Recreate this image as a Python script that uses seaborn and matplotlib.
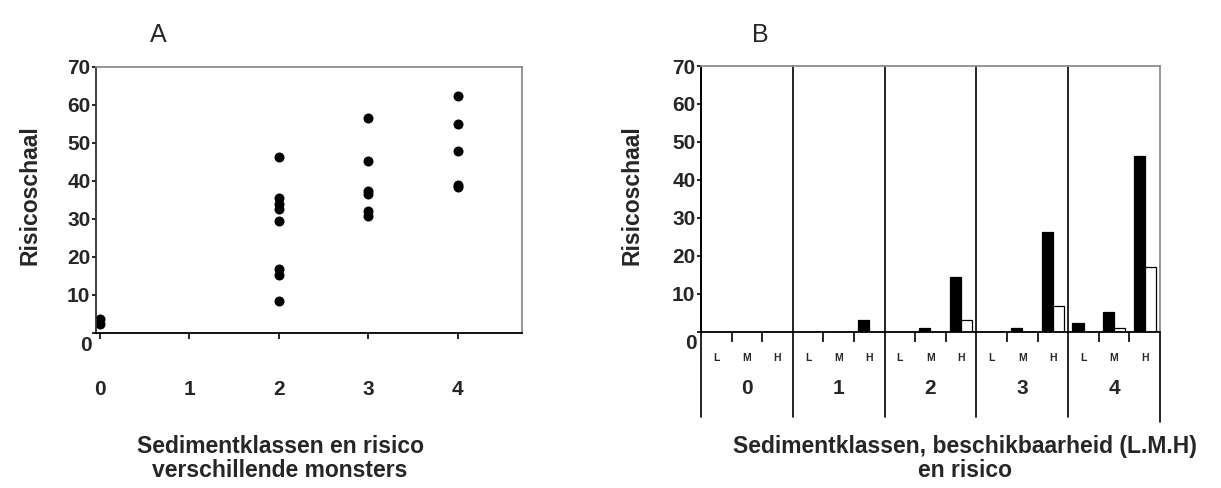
import matplotlib
matplotlib.use("Agg")
import matplotlib.pyplot as plt
import matplotlib.transforms as mtransforms
import pandas as pd
import seaborn as sns

# ---- Panel A: risk score of individual samples per sediment class ----
klasse_a = [0, 0,
            2, 2, 2, 2, 2, 2, 2, 2,
            3, 3, 3, 3, 3, 3,
            4, 4, 4, 4, 4]
risico_a = [3.8, 2.5,
            46.2, 35.5, 34.0, 32.7, 29.5, 16.9, 15.2, 8.4,
            56.6, 45.2, 37.4, 36.5, 32.0, 30.7,
            62.5, 54.9, 47.8, 38.9, 38.4]
klassen_labels_a = ["0", "1", "2", "3", "4"]

# ---- Panel B: risk per sediment class and availability (L, M, H) ----
klassen_b = ["0", "1", "2", "3", "4"]
beschikbaarheid = ["L", "M", "H"]
zwart_L = [0, 0, 0, 0, 2.2]
zwart_M = [0, 0, 1.0, 1.0, 5.2]
zwart_H = [0, 3.2, 14.3, 26.3, 46.2]
wit_L = [0, 0, 0, 0, 0]
wit_M = [0, 0, 0, 0, 1.0]
wit_H = [0, 0, 3.2, 6.9, 17.1]
reeksen = ["zwart", "wit"]

y_ticks = [0, 10, 20, 30, 40, 50, 60, 70]

sns.set_theme(style="white")
plt.rcParams["font.family"] = ["Liberation Sans", "DejaVu Sans"]

df_a = pd.DataFrame({"klasse": klasse_a, "risico": risico_a})

rows = []
waarden = {("zwart", "L"): zwart_L, ("zwart", "M"): zwart_M, ("zwart", "H"): zwart_H,
           ("wit", "L"): wit_L, ("wit", "M"): wit_M, ("wit", "H"): wit_H}
for i, k in enumerate(klassen_b):
    for b in beschikbaarheid:
        for r in reeksen:
            rows.append({"cat": f"{k}{b}", "reeks": r, "waarde": waarden[(r, b)][i]})
df_b = pd.DataFrame(rows)
order_b = [f"{k}{b}" for k in klassen_b for b in beschikbaarheid]

W, H = 1221, 488
fig = plt.figure(figsize=(W / 100, H / 100), dpi=100)
fig.patch.set_facecolor("white")

def px_axes(left, top, right, bottom):
    return fig.add_axes([left / W, 1 - bottom / H, (right - left) / W, (bottom - top) / H])

axA = px_axes(96, 67, 522, 333)
axB = px_axes(701, 66, 1160, 331.7)

tick_font = dict(fontsize=15, fontweight="bold")
label_font = dict(fontsize=16.5, fontweight="bold")
gray = "#8c8c8c"

# ---------------- Panel A ----------------
sns.scatterplot(data=df_a, x="klasse", y="risico", ax=axA, color="black",
                s=52, edgecolor="black", linewidth=0, legend=False)
axA.set_xlim(-0.04, 4.72)
axA.set_ylim(0, 70)
axA.set_xticks(range(len(klassen_labels_a)))
axA.set_xticklabels(klassen_labels_a, **tick_font)
axA.set_yticks(y_ticks)
axA.set_yticklabels([""] + [str(t) for t in y_ticks[1:]], **tick_font)
axA.tick_params(axis="x", bottom=True, direction="out", length=4, width=1.2,
                color="black", pad=30)
axA.tick_params(axis="y", left=True, direction="out", length=3, width=1.2,
                color="black", pad=1)

# ---------------- Panel B ----------------
sns.barplot(data=df_b, x="cat", y="waarde", hue="reeks", order=order_b,
            hue_order=reeksen, palette=["black", "white"], edgecolor="black",
            linewidth=0.9, width=0.72, ax=axB, legend=False)
axB.set_xlim(-0.5, len(order_b) - 0.5)
axB.set_ylim(0, 70)
axB.set_xticks(range(len(order_b)))
axB.set_xticklabels([b for _ in klassen_b for b in beschikbaarheid],
                    fontsize=7.5, fontweight="bold")
axB.set_xticks([i - 0.5 for i in range(1, len(order_b)) if i % 3 != 0], minor=True)
axB.tick_params(axis="x", which="major", bottom=True, length=0, pad=15)
axB.tick_params(axis="x", which="minor", bottom=True, direction="out",
                length=7, width=1.2, color="black")
axB.set_yticks(y_ticks)
axB.set_yticklabels([""] + [str(t) for t in y_ticks[1:]], **tick_font)
axB.tick_params(axis="y", left=True, direction="out", length=3, width=1.2,
                color="black", pad=1)

# group separators running from the top of the plot down through the labels
for g in range(len(klassen_b) + 1):
    x = 3 * g - 0.5
    if g == len(klassen_b):
        axB.axvline(x, ymin=-0.34, ymax=0, color="black", lw=1.2, clip_on=False)
    else:
        axB.axvline(x, ymin=-0.32, ymax=1, color="black", lw=1.2, clip_on=False)

blend_b = mtransforms.blended_transform_factory(axB.transData, axB.transAxes)
for g, k in enumerate(klassen_b):
    axB.text(3 * g + 1, -0.212, k, transform=blend_b, ha="center", va="center",
             **tick_font)

# ---------------- shared styling ----------------
for ax in (axA, axB):
    ax.set_facecolor("white")
    ax.grid(False)
    ax.spines["left"].set_color("#303030" if ax is axA else "black")
    ax.spines["left"].set_linewidth(1.3)
    ax.spines["bottom"].set_color("black")
    ax.spines["bottom"].set_linewidth(1.3)
    for side in ("top", "right"):
        ax.spines[side].set_color(gray)
        ax.spines[side].set_linewidth(1.3)
    # the zero label sits just below the axis line
    ax.annotate("0", xy=(0, 0), xycoords=("axes fraction", "data"),
                xytext=(-3, -2), textcoords="offset points",
                ha="right", va="top", annotation_clip=False, **tick_font)
    ax.set_ylabel("Risicoschaal", va="center", **label_font)

axA.set_xlabel("Sedimentklassen en risico\nverschillende monsters",
               linespacing=1.05, **label_font)
axB.set_xlabel("Sedimentklassen, beschikbaarheid (L.M.H)\nen risico",
               linespacing=1.05, **label_font)
axA.xaxis.set_label_coords(0.432, -0.385)
axB.xaxis.set_label_coords(0.575, -0.39)
axA.yaxis.set_label_coords(-0.155, 0.52)
axB.yaxis.set_label_coords(-0.150, 0.514)

fig.text(158 / W, 1 - 35 / H, "A", ha="center", va="center", fontsize=18)
fig.text(760 / W, 1 - 35 / H, "B", ha="center", va="center", fontsize=18)

fig.savefig("out.png", dpi=100, facecolor="white")
